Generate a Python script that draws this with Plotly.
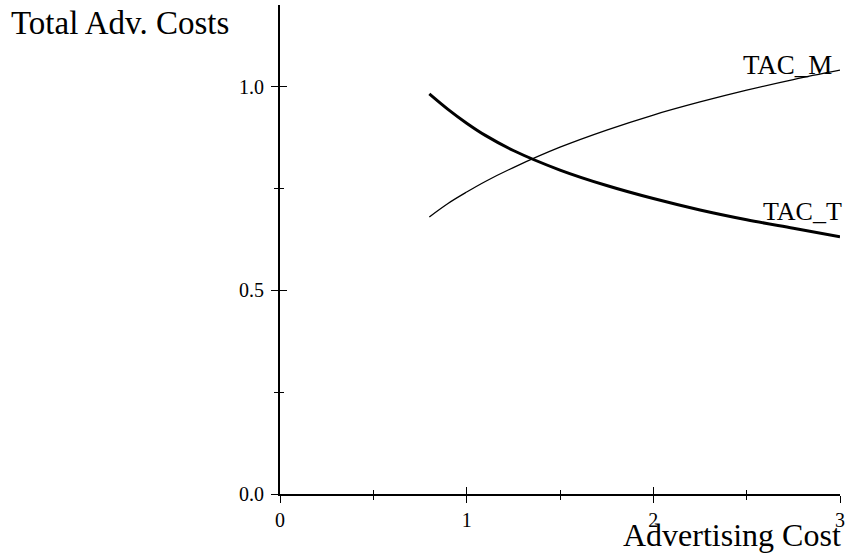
import plotly.graph_objects as go

# Data
adv_cost = [0.8, 0.9, 1.0, 1.1, 1.25, 1.5, 1.75, 2.0, 2.25, 2.5, 2.75, 3.0]
tac_t = [0.982, 0.944, 0.910, 0.880, 0.843, 0.795, 0.757, 0.725, 0.697, 0.673, 0.652, 0.631]
tac_m = [0.680, 0.713, 0.741, 0.767, 0.801, 0.851, 0.893, 0.930, 0.962, 0.991, 1.017, 1.040]

x_ticks = [0, 1, 2, 3]
x_tick_labels = ["0", "1", "2", "3"]
y_ticks = [0.0, 0.5, 1.0]
y_tick_labels = ["0.0", "0.5", "1.0"]

FONT = "Liberation Serif, Times New Roman, serif"

fig = go.Figure()
fig.add_trace(go.Scatter(x=adv_cost, y=tac_t, mode="lines", name="TAC_T",
                         line=dict(color="black", width=3, shape="spline")))
fig.add_trace(go.Scatter(x=adv_cost, y=tac_m, mode="lines", name="TAC_M",
                         line=dict(color="black", width=1.3, shape="spline")))
# invisible trace for the overlay axes (inside ticks)
fig.add_trace(go.Scatter(x=[None], y=[None], xaxis="x2", yaxis="y2",
                         mode="lines", showlegend=False, hoverinfo="skip"))

xr = [0, 3]
yr = [0, 1.2]

common_x = dict(range=xr, tickvals=x_ticks, showgrid=False, zeroline=False,
                tickcolor="black", tickwidth=1, automargin=False)
common_y = dict(range=yr, tickvals=y_ticks, showgrid=False, zeroline=False,
                tickcolor="black", tickwidth=1, automargin=False)

fig.update_layout(
    width=845, height=559,
    margin=dict(l=280, r=5, t=5, b=65),
    paper_bgcolor="white", plot_bgcolor="white",
    showlegend=False,
    font=dict(family=FONT, color="black"),
    xaxis=dict(**common_x, ticktext=x_tick_labels, ticks="outside", ticklen=7,
               minor=dict(tickvals=[0.5, 1.5, 2.5], ticks="outside", ticklen=4,
                          tickcolor="black", tickwidth=1),
               showline=True, linecolor="black", linewidth=1.8,
               tickfont=dict(family=FONT, size=20, color="black"),
               ticklabelstandoff=0, anchor="y"),
    yaxis=dict(**common_y, ticktext=y_tick_labels, ticks="outside", ticklen=7,
               minor=dict(tickvals=[0.25, 0.75], ticks="outside", ticklen=4,
                          tickcolor="black", tickwidth=1),
               showline=True, linecolor="black", linewidth=1.8,
               tickfont=dict(family=FONT, size=20, color="black"),
               ticklabelstandoff=3, anchor="x"),
    xaxis2=dict(**common_x, overlaying="x", anchor="y2", ticks="inside", ticklen=7,
                minor=dict(tickvals=[0.5, 1.5, 2.5], ticks="inside", ticklen=4,
                           tickcolor="black", tickwidth=1),
                showticklabels=False, showline=False),
    yaxis2=dict(**common_y, overlaying="y", anchor="x2", ticks="inside", ticklen=7,
                minor=dict(tickvals=[0.25, 0.75], ticks="inside", ticklen=4,
                           tickcolor="black", tickwidth=1),
                showticklabels=False, showline=False),
)

fig.add_annotation(text="Total Adv. Costs", xref="paper", yref="paper",
                   x=-0.4835, y=0.963, xanchor="left", yanchor="middle",
                   showarrow=False, font=dict(family=FONT, size=33, color="black"))
fig.add_annotation(text="Advertising Cost", xref="paper", yref="paper",
                   x=1.005, y=-0.0838, xanchor="right", yanchor="middle",
                   showarrow=False, font=dict(family=FONT, size=32, color="black"))
fig.add_annotation(text="TAC_M", xref="x", yref="y",
                   x=2.47, y=1.053, xanchor="left", yanchor="middle",
                   showarrow=False, font=dict(family=FONT, size=27, color="black"))
fig.add_annotation(text="TAC_T", xref="x", yref="y",
                   x=2.575, y=0.694, xanchor="left", yanchor="middle",
                   showarrow=False, font=dict(family=FONT, size=26, color="black"))

fig.write_html("out.html", config={"displayModeBar": False},
               post_script="document.body.style.margin='0';document.body.style.overflow='hidden';")
